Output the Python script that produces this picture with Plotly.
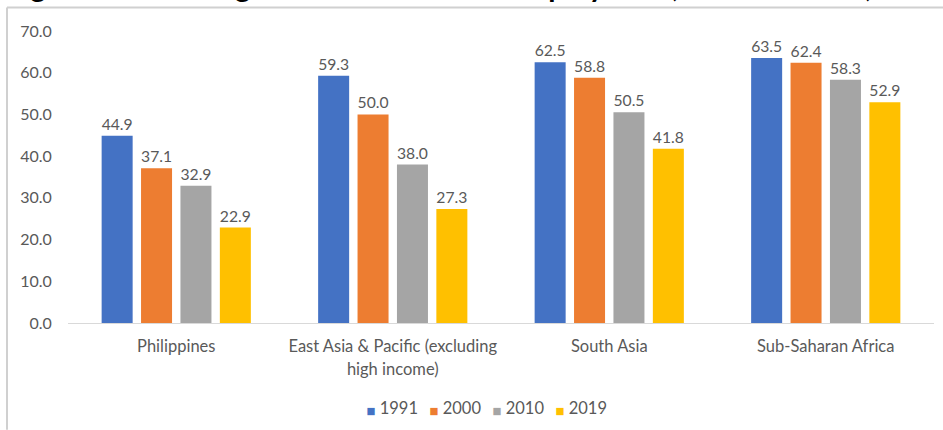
import plotly.graph_objects as go

categories = ["Philippines", "East Asia & Pacific (excluding<br>high income)", "South Asia", "Sub-Saharan Africa"]
years = ["1991", "2000", "2010", "2019"]
v1991 = [44.9, 59.3, 62.5, 63.5]
v2000 = [37.1, 50.0, 58.8, 62.4]
v2010 = [32.9, 38.0, 50.5, 58.3]
v2019 = [22.9, 27.3, 41.8, 52.9]
series = [v1991, v2000, v2010, v2019]
colors = ["#4472C4", "#ED7D31", "#A5A5A5", "#FFC000"]
y_ticks = [0, 10, 20, 30, 40, 50, 60, 70]
title_text = "Figure 2. Declining rates of vulnerable employment, 1991 to 2019, selected regions"

FONT = "Lato"
TXT = "#595959"

fig = go.Figure()
for name, vals, col in zip(years, series, colors):
    fig.add_trace(go.Bar(
        x=categories, y=vals, name=name, showlegend=False,
        marker=dict(color=col, line=dict(width=0)),
        texttemplate="%{y:.1f}", textposition="outside",
        textfont=dict(family=FONT, size=16, color=TXT),
        cliponaxis=False,
    ))
# legend entries: coloured square swatch drawn as part of the label, tight to the text
for name, col in zip(years, colors):
    label = '<span style="font-family:DejaVu Sans;font-size:9.5px;color:%s">■</span> %s' % (col, name)
    fig.add_trace(go.Scatter(
        x=[None], y=[None], mode="markers", name=label,
        marker=dict(symbol="square", size=1, color="rgba(0,0,0,0)"),
        showlegend=True, hoverinfo="skip",
    ))
# empty spacer entry so the last legend label is not clipped
fig.add_trace(go.Scatter(x=[None], y=[None], mode="markers", name=" ",
                         marker=dict(size=1, color="rgba(0,0,0,0)"), showlegend=True,
                         hoverinfo="skip"))

# plot area in pixels
L, R, T, B = 68, 9, 30.5, 107
W = 943 - L - R
H = 430 - T - B

def px(xp):
    return (xp - L) / W

def py(yp):
    return (430 - B - yp) / H

cat_text = ['<span style="font-size:16.5px">' + c.replace("<br>", '</span><br><span style="font-size:16.5px">') + "</span>" for c in categories]

fig.update_layout(
    width=943, height=430,
    margin=dict(l=L, r=R, t=T, b=B, autoexpand=False),
    paper_bgcolor="white", plot_bgcolor="white",
    barmode="group", bargap=0.272, bargroupgap=0.213,
    font=dict(family=FONT, color=TXT, size=16),
    showlegend=True,
    legend=dict(orientation="h", xref="container", yref="container",
                x=326.5 / 943, xanchor="left", y=1 - 408 / 430, yanchor="middle",
                font=dict(family=FONT, size=16.5, color=TXT), traceorder="normal",
                itemwidth=30, entrywidth=18, bgcolor="rgba(0,0,0,0)"),
    xaxis=dict(showline=True, linecolor="#D9D9D9", linewidth=1, ticks="",
               tickmode="array", tickvals=categories, ticktext=cat_text,
               ticklabelstandoff=7, automargin=False,
               tickfont=dict(family=FONT, size=17.7, color=TXT), showgrid=False),
    yaxis=dict(range=[0, 70], tickvals=y_ticks, tickformat=".1f", showgrid=False,
               zeroline=False, showline=False, ticks="outside", ticklen=12, automargin=False,
               tickcolor="rgba(0,0,0,0)", tickfont=dict(family=FONT, size=16, color=TXT)),
    shapes=[
        dict(type="line", xref="paper", yref="paper", x0=px(7), x1=px(943), y0=py(7), y1=py(7),
             line=dict(color="#D0D0D0", width=2), layer="above"),
        dict(type="line", xref="paper", yref="paper", x0=px(7), x1=px(7), y0=py(7), y1=py(430),
             line=dict(color="#D0D0D0", width=2), layer="above"),
    ],
    annotations=[
        dict(text="<b>" + title_text + "</b>",
             xref="paper", yref="paper", x=px(4), xanchor="left", y=py(4), yanchor="bottom",
             showarrow=False, font=dict(family=FONT, size=29.5, color="black")),
    ],
)

fig.write_html("out.html", config={"displayModeBar": False},
               post_script="document.body.style.margin='0';")
